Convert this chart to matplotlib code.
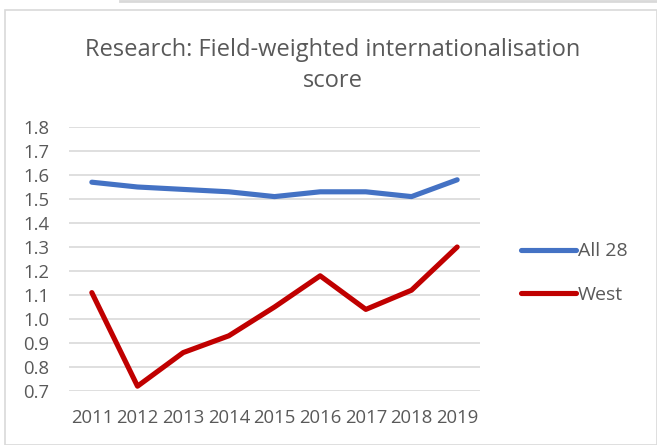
import matplotlib
matplotlib.use("Agg")
import matplotlib.pyplot as plt
from matplotlib.patches import Rectangle
from matplotlib.lines import Line2D

years = ["2011", "2012", "2013", "2014", "2015", "2016", "2017", "2018", "2019"]
all28 = [1.57, 1.55, 1.54, 1.53, 1.51, 1.53, 1.53, 1.51, 1.58]
west = [1.11, 0.72, 0.86, 0.93, 1.05, 1.18, 1.04, 1.12, 1.30]
yticks = [0.7, 0.8, 0.9, 1.0, 1.1, 1.2, 1.3, 1.4, 1.5, 1.6, 1.7, 1.8]
title_lines = ["Research: Field-weighted internationalisation", "score"]

plt.rcParams['font.family'] = ['Open Sans', 'DejaVu Sans']
txt = '#595959'

W, H = 657, 445
fig = plt.figure(figsize=(W / 100, H / 100), dpi=100)
fig.patch.set_facecolor('white')

# chart border
fig.add_artist(Rectangle((5 / W, 0), (W - 5) / W, (H - 10) / H, transform=fig.transFigure,
                         fill=False, edgecolor='#d9d9d9', linewidth=1.2))
fig.add_artist(Line2D([120 / W, 1], [1 - 1 / H, 1 - 1 / H], transform=fig.transFigure,
                      color='#d9d9d9', linewidth=2))

ax = fig.add_axes([69 / W, (H - 391) / H, (480 - 69) / W, (391 - 127) / H])
x = list(range(len(years)))
ax.plot(x, all28, color='#4472c4', linewidth=3.7, solid_capstyle='round', label='All 28')
ax.plot(x, west, color='#c00000', linewidth=3.7, solid_capstyle='round', label='West')

ax.set_xlim(-0.5, len(years) - 0.5)
ax.set_ylim(0.7, 1.8)
ax.set_yticks(yticks)
ax.set_yticklabels([f"{v:.1f}" for v in yticks])
ax.set_xticks(x)
ax.set_xticklabels(years)
ax.grid(axis='y', color='#d9d9d9', linewidth=1.2)
ax.set_axisbelow(True)
for s in ax.spines.values():
    s.set_visible(False)
ax.tick_params(length=0, labelsize=13.3, colors=txt)
ax.tick_params(axis='x', pad=13)
ax.tick_params(axis='y', pad=14)

fig.text(333 / W, 1 - 56 / H, title_lines[0], ha='center', va='baseline', fontsize=17,
         color=txt)
fig.text(333 / W, 1 - 87 / H, title_lines[1], ha='center', va='baseline', fontsize=17,
         color=txt)

leg = fig.legend(loc='upper left', bbox_to_anchor=(503 / W, 1 - 225 / H), frameon=False,
                 fontsize=14, labelcolor=txt, handlelength=2.85, handletextpad=0.1,
                 labelspacing=1.3)

fig.savefig('out.png', dpi=100)
